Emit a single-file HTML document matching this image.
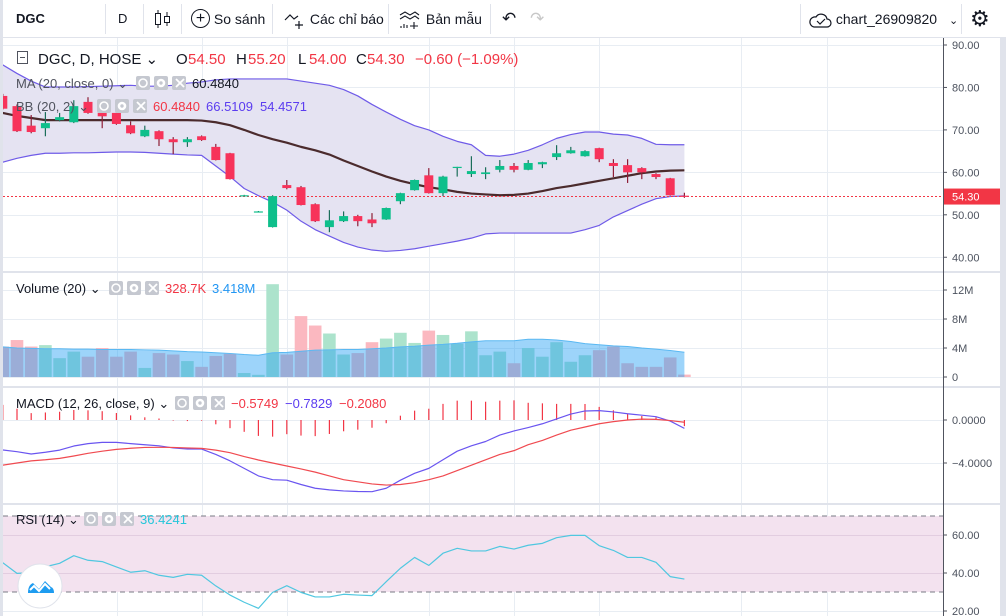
<!DOCTYPE html>
<html><head><meta charset="utf-8">
<style>
html,body{margin:0;padding:0;background:#fff;width:1006px;height:616px;overflow:hidden;font-family:"Liberation Sans","Noto Sans CJK SC",sans-serif;}
#root{position:relative;width:1006px;height:616px;}
.tb{position:absolute;top:0;left:0;width:1006px;height:38px;border-bottom:1px solid #e0e3eb;box-sizing:border-box;background:#fff;}
.tbi{position:absolute;top:0;height:38px;line-height:38px;font-size:14px;color:#131722;white-space:nowrap;}
.sep{position:absolute;top:4px;width:1px;height:30px;background:#e0e3eb;}
</style></head><body>
<div id="root">
<div class="tb">
  <div style="position:absolute;left:0;top:0;width:3px;height:616px;background:#e0e3eb"></div>
  <div class="tbi" style="left:16px;font-weight:bold;font-size:13px">DGC</div>
  <div class="sep" style="left:105px"></div>
  <div class="tbi" style="left:118px;font-size:13px">D</div>
  <div class="sep" style="left:143px"></div>
  <svg style="position:absolute;left:154px;top:9px" width="18" height="20"><line x1="4" y1="1" x2="4" y2="19" stroke="#131722"/><rect x="1.5" y="4.5" width="5" height="11" fill="#fff" stroke="#131722"/><line x1="13" y1="3" x2="13" y2="17" stroke="#131722"/><rect x="10.5" y="7.5" width="5" height="6" fill="#fff" stroke="#131722"/></svg>
  <div class="sep" style="left:181px"></div>
  <div class="tbi" style="left:191px"><span style="display:inline-block;width:17px;height:17px;border:1.3px solid #131722;border-radius:50%;text-align:center;line-height:17px;font-size:16px;vertical-align:middle;margin-top:-3px">+</span> So sánh</div>
  <div class="sep" style="left:272px"></div>
  <div class="tbi" style="left:284px"><svg width="22" height="20" style="vertical-align:middle"><path d="M1 10 L6 5 L10 9 L14 6" fill="none" stroke="#131722" stroke-width="1.2"/><path d="M15 11 V19 M11 15 H19" stroke="#131722" stroke-width="1.2"/></svg> Các chỉ báo</div>
  <div class="sep" style="left:388px"></div>
  <div class="tbi" style="left:398px"><svg width="24" height="20" style="vertical-align:middle"><path d="M2 5 L7 2 L12 5 L17 2 L21 5 M2 9 L7 6 L12 9 L17 6 L21 9" fill="none" stroke="#131722" stroke-width="1.1"/><path d="M3 18v-2 M6 18v-4 M9 18v-3 M16 12 V19 M12 16 H20" stroke="#131722" stroke-width="1.1"/></svg> Bản mẫu</div>
  <div class="sep" style="left:490px"></div>
  <div class="tbi" style="left:502px;font-size:17px;color:#131722">↶</div>
  <div class="tbi" style="left:530px;font-size:17px;color:#c8c8c8">↷</div>
  <div class="sep" style="left:800px"></div>
  <div class="tbi" style="left:808px"><svg width="24" height="18" style="vertical-align:middle"><path d="M6 16 H19 a4 4 0 0 0 0-8 a6 6 0 0 0-11-2 a5 5 0 0 0-2 10z" fill="none" stroke="#131722" stroke-width="1.2"/><path d="M9 10 l3 3 l5-5" fill="none" stroke="#131722" stroke-width="1.2"/></svg> chart_26909820 <span style="font-size:11px;margin-left:8px">⌄</span></div>
  <div class="sep" style="left:961px"></div>
  <div class="tbi" style="left:970px;font-size:22px">⚙</div>
</div>
<svg id="ch" style="position:absolute;left:0;top:38px" width="1006" height="578" viewBox="0 38 1006 578"></svg>
</div>
<script>
const closes=[75,69.7,69.5,71.6,73,75.6,74,73.2,71.4,69.2,70,67.8,67.1,67.8,67.6,62.9,58.4,54.6,50.8,54.4,56.3,52.3,48.5,48.7,49.7,48.5,48,51.6,55.1,58.2,55.1,59,61.3,60.3,60,61.5,60.6,62.2,62.4,64.5,65.2,65,63.1,61.5,60,60,58.9,54.6,54.3];
const opens=[78,75.6,71,70.4,72.3,71.8,76.6,74,74,71.1,68.5,69.7,67.8,67.1,68.5,66,64.5,54.6,50.8,47.1,57,56.5,52.5,47.1,48.5,49.7,48.9,48.9,53.2,55.8,59.3,55.1,61.1,59.6,59.6,60.6,61.5,60.6,61.9,63.6,64.5,63.8,65.7,62.2,61.7,61,59.6,58.6,54.5];
const highs=[78.5,76,73.5,74.2,74,77,77.7,74.3,74,72,71,69.9,68.3,68.3,68.7,66.7,64.6,54.7,50.9,54.6,58.2,56.8,52.7,51.1,50.8,50,50.4,51.7,55.2,58.3,61,59.2,61.3,63.8,61.2,62.9,62.2,62.9,62.5,66.4,66,65.2,65.8,63.1,63.1,61.2,59.8,58.7,55.2];
const lows=[74.8,69.5,69.2,68.5,72,71.6,73.8,70.4,71.2,69,68.3,66.2,64.3,66,67.4,62.8,58.3,54.5,50.7,47,56,52.2,48.3,45.9,48.3,47.3,47.1,48.8,52.5,55.7,55,54.4,59,58.9,58.4,60,60,60.5,61,62.9,64.4,63.7,62.4,58.9,57.5,58.4,58.4,54.5,54];
const maVals=[74,73.3,72.8,72.3,72.3,72.3,72.3,72.3,72.3,72.3,72.3,72.3,72.3,72.3,72.2,71.8,71.1,70,68.8,67.8,67,66,65.2,64.2,62.8,61.5,60.2,59,58,57.2,56.5,56,55.4,55,54.8,54.6,54.7,55,55.6,56.3,56.8,57.4,58,58.6,59.2,59.8,60.2,60.4,60.48];
const bbUpper=[85.3,83.3,81.5,80.1,80.1,80.1,80.2,80.3,80.4,80.5,80.3,80.3,80.5,81,81.3,81.8,82,82,82,82,82,81.5,81,80.5,79.5,78,76,74.2,72.5,71,70,68.5,67.3,66.5,64,63.8,64.3,65.2,66.5,68,68.9,69.5,69.5,69,68.8,68,66.6,66.5,66.51];
const bbLower=[62.4,63.3,64,64.5,64.5,64.6,64.6,64.7,64.8,64.8,64.7,64.5,64.3,64.1,64,61.5,59,56.2,54.5,53,51.1,48.5,46.5,45,43.5,42.4,41.7,41.4,41.6,42,42.6,43.2,43.8,44.5,45.5,45.7,45.7,45.7,45.7,45.7,45.7,46.5,47.5,49.5,51,52.5,53.8,54.3,54.46];
const volumes=[4.2,5.1,4.2,4.4,2.6,3.5,2.8,4.0,2.8,3.5,1.25,3.3,3.1,2.2,1.4,2.9,3.2,0.55,0.3,12.8,3.1,8.4,7.1,6.0,3.1,3.3,4.8,5.3,6.1,4.7,6.4,5.8,4.6,6.3,3.0,3.5,1.9,4.0,2.8,4.8,2.1,3.0,3.7,4.2,1.9,1.4,1.4,2.7,0.33];
const volMA=[4.15,4.0,3.95,3.9,3.9,3.85,3.85,3.8,3.8,3.8,3.75,3.7,3.6,3.5,3.45,3.35,3.25,3.1,3.0,3.35,3.4,3.55,3.7,3.75,3.8,3.8,3.9,4.0,4.15,4.25,4.4,4.5,4.65,4.85,5.0,5.0,5.0,5.2,5.2,5.1,4.9,4.6,4.45,4.3,4.2,4.0,3.85,3.65,3.42];
const macdVals=[-2.79,-2.95,-3.16,-3.0,-2.8,-2.42,-2.2,-2.08,-2.08,-2.2,-2.3,-2.4,-2.6,-2.7,-2.7,-3.2,-3.8,-4.5,-5.2,-5.55,-5.6,-6.0,-6.35,-6.5,-6.6,-6.65,-6.67,-6.35,-5.6,-4.96,-4.5,-3.7,-2.9,-2.4,-2.0,-1.4,-1.02,-0.7,-0.35,0.1,0.55,0.84,0.87,0.75,0.58,0.45,0.31,-0.1,-0.78];
const signalVals=[-4.2,-4.0,-3.8,-3.7,-3.57,-3.35,-3.1,-2.9,-2.73,-2.63,-2.55,-2.54,-2.55,-2.6,-2.64,-2.8,-3.04,-3.4,-3.72,-4.0,-4.28,-4.55,-4.85,-5.2,-5.55,-5.75,-5.95,-6.05,-6.0,-5.83,-5.55,-5.2,-4.7,-4.2,-3.7,-3.2,-2.85,-2.3,-1.9,-1.4,-0.95,-0.65,-0.35,-0.15,0,0.08,0.06,-0.05,-0.21];
const rsiVals=[45.4,39.8,40.2,43.3,45.1,49.1,46.7,46,43.2,40.4,41.2,38.8,37.7,39.3,38.8,33.2,28.4,24.6,21.4,29.8,33.3,29.8,27.4,27.4,28.8,28.4,28.1,35.4,42.5,48.2,44,50.4,53,51.6,51.6,54,52.6,54.6,55.6,58.6,59.8,59.8,54.4,51.9,48.2,48.2,45.6,38.1,36.8];
const priceTicks=[90,80,70,60,50,40];
const volTicks=[12,8,4,0];
const volTickLabels=["12M","8M","4M","0"];
const macdTicks=[0,-4];
const rsiTicks=[60,40,20];
const lastPrice=54.3;

const NS='http://www.w3.org/2000/svg';
const svg=document.getElementById('ch');
function el(t,a,p){const e=document.createElementNS(NS,t);for(const k in a)e.setAttribute(k,a[k]);(p||svg).appendChild(e);return e;}
function tx(x,y,s,a,p){const e=el('text',Object.assign({x:x,y:y,'font-size':11,fill:'#4c525e','font-family':'Liberation Sans, sans-serif'},a),p);e.textContent=s;return e;}
const xC=i=>2.8+14.2*i;
const yP=p=>45+(90-p)*4.245;
const yV=v=>377-v*7.25;
const yM=m=>420-m*10.75;
const yR=r=>535+(60-r)*1.9;
const W=943;
const defs=el('defs',{});
const cp=el('clipPath',{id:'clip'},defs);el('rect',{x:3,y:38,width:W-3,height:578},cp);

// grid
const grid=el('g',{stroke:'#e8edf3','stroke-width':1});


[117,202,287,429,514,599,741,827].forEach(x=>el('line',{x1:x+.5,y1:38,x2:x+.5,y2:616},grid));
priceTicks.forEach(p=>el('line',{x1:3,x2:W,y1:Math.round(yP(p))+.5,y2:Math.round(yP(p))+.5},grid));
volTicks.forEach(v=>el('line',{x1:3,x2:W,y1:Math.round(yV(v))+.5,y2:Math.round(yV(v))+.5},grid));
macdTicks.forEach(v=>el('line',{x1:3,x2:W,y1:Math.round(yM(v))+.5,y2:Math.round(yM(v))+.5},grid));
rsiTicks.forEach(v=>el('line',{x1:3,x2:W,y1:Math.round(yR(v))+.5,y2:Math.round(yR(v))+.5},grid));

const g=el('g',{'clip-path':'url(#clip)'});
// BB fill
let up=bbUpper.map((v,i)=>xC(i)+','+yP(v)).join(' ');
let lo=bbLower.map((v,i)=>xC(i)+','+yP(v)).reverse().join(' ');
const bbf=el('polygon',{points:'0,'+yP(bbUpper[0]+1)+' '+up+' '+lo+' 0,'+yP(bbLower[0]-0.4),fill:'#e5e3f2'},g);


function line(arr,yf,col,w,name){const pl=el('polyline',{points:arr.map((v,i)=>xC(i)+','+yf(v)).join(' '),fill:'none',stroke:col,'stroke-width':w,'stroke-linejoin':'round'},g);return pl;}
line(bbUpper,yP,'#6f5be8',1.2,'bb-upper-line');
line(bbLower,yP,'#6f5be8',1.2,'bb-lower-line');
line(maVals,yP,'#4b2b2d',2.2,'ma20-line');
// last price line
const lp=el('line',{x1:3,x2:W,y1:yP(lastPrice),y2:yP(lastPrice),stroke:'#f23645','stroke-dasharray':'2,2'},g);


// candles
closes.forEach((c,i)=>{const o=opens[i];const upc=c>=o;const x=xC(i);
 const cg=el('g',{},g);
 
 
 el('line',{x1:x,x2:x,y1:yP(highs[i]),y2:yP(lows[i]),stroke:upc?'#1b6e5a':'#8e1d36','stroke-width':1.2},cg);
 const t=yP(Math.max(o,c)),b=yP(Math.min(o,c));
 el('rect',{x:x-4.5,y:t,width:9,height:Math.max(1.2,b-t),fill:upc?'#0ebf8b':'#f7335a'},cg);
});
// volume bars
volumes.forEach((v,i)=>{const upc=closes[i]>=opens[i];const r=el('rect',{x:xC(i)-6.3,y:yV(v),width:12.6,height:yV(0)-yV(v),fill:upc?'#ace3cc':'#fbb8c0'},g);
 
 });
const va=el('polygon',{points:'3,'+yV(0)+' '+volMA.map((v,i)=>xC(i)+','+yV(v)).join(' ')+' '+xC(48)+','+yV(0),fill:'rgba(38,160,245,0.45)'},g);


line(volMA,yV,'#5ab8f2',1,'volume-ma-line');
// macd histogram
macdVals.forEach((m,i)=>{const h=m-signalVals[i];const r=el('line',{x1:xC(i),x2:xC(i),y1:yM(0),y2:yM(h),stroke:'#f23645','stroke-width':1.2},g);
 
 });
line(macdVals,yM,'#6a55f0',1.2,'macd-line');
line(signalVals,yM,'#f04a50',1.2,'signal-line');
// rsi band
const rb=el('rect',{x:3,y:yR(70),width:W-3,height:yR(30)-yR(70),fill:'#f3e2ef'},g);


[70,30].forEach(v=>el('line',{x1:3,x2:W,y1:yR(v),y2:yR(v),stroke:'#787b86','stroke-dasharray':'5,4'},g));
[60,40].forEach(v=>el('line',{x1:3,x2:W,y1:yR(v)+.5,y2:yR(v)+.5,stroke:'#e2cde0'},g));
line(rsiVals,yR,'#4fc7e0',1.2,'rsi-line');

// pane separators
[271,386,503].forEach(y=>{const s=el('rect',{x:3,y:y,width:1003,height:2,fill:'#e0e3eb'});});
// price scale
el('line',{x1:943.5,x2:943.5,y1:38,y2:616,stroke:'#50535e'});
el('rect',{x:1000,y:38,width:6,height:578,fill:'#e0e3eb'});
const ax=el('g',{});


function tick(y,s){el('line',{x1:943,x2:947,y1:y,y2:y,stroke:'#50535e'},ax);tx(952,y+4,s,{},ax);}
priceTicks.forEach(p=>tick(yP(p),p.toFixed(2)));
volTicks.forEach((v,i)=>tick(yV(v),volTickLabels[i]));
macdTicks.forEach(v=>tick(yM(v),(v<0?'−':'')+Math.abs(v).toFixed(4)));
rsiTicks.forEach(v=>tick(yR(v),v.toFixed(2)));
const pl=el('rect',{x:944,y:yP(lastPrice)-8,width:56,height:16,fill:'#f23645'});


tx(952,yP(lastPrice)+4,lastPrice.toFixed(2),{fill:'#fff'});

// legends
function icons(x,y,p){for(let k=0;k<3;k++){el('rect',{x:x+k*18,y:y,width:14,height:14,rx:2,fill:'#c5c8d0'},p);}
 el('circle',{cx:x+7,cy:y+7,r:4,fill:'none',stroke:'#fff','stroke-width':1.6},p);
 el('circle',{cx:x+25,cy:y+7,r:3,fill:'none',stroke:'#fff','stroke-width':2.6},p);
 el('path',{d:`M${x+40} ${y+3} l8 8 M${x+48} ${y+3} l-8 8`,stroke:'#fff','stroke-width':1.8},p);}
const lg=el('g',{});


el('rect',{x:17.5,y:51.5,width:10,height:12,fill:'#fff',stroke:'#50535e'},lg);
el('line',{x1:20,x2:25,y1:57.5,y2:57.5,stroke:'#50535e'},lg);
const L=(x,y,s,c,fs)=>tx(x,y,s,{fill:c,'font-size':fs||15},lg);
L(38,64,'DGC, D, HOSE ⌄','#131722');
L(176,64,'O','#131722');L(188,64,'54.50','#f23645');
L(236,64,'H','#131722');L(248,64,'55.20','#f23645');
L(298,64,'L','#131722');L(309,64,'54.00','#f23645');
L(356,64,'C','#131722');L(367,64,'54.30','#f23645');
L(415,64,'−0.60 (−1.09%)','#f23645');
tx(16,88,'MA (20, close, 0) ⌄',{'font-size':13,fill:'#50535e'},lg);icons(136,76,lg);tx(192,88,'60.4840',{'font-size':13,fill:'#131722'},lg);
tx(16,111,'BB (20, 2) ⌄',{'font-size':13,fill:'#50535e'},lg);icons(97,99,lg);tx(153,111,'60.4840',{'font-size':13,fill:'#f23645'},lg);tx(206,111,'66.5109',{'font-size':13,fill:'#5b3cf0'},lg);tx(260,111,'54.4571',{'font-size':13,fill:'#5b3cf0'},lg);
tx(16,293,'Volume (20) ⌄',{'font-size':13,fill:'#131722'},lg);icons(109,281,lg);tx(165,293,'328.7K',{'font-size':13,fill:'#f23645'},lg);tx(212,293,'3.418M',{'font-size':13,fill:'#2196f3'},lg);
tx(16,408,'MACD (12, 26, close, 9) ⌄',{'font-size':13,fill:'#131722'},lg);icons(175,396,lg);tx(231,408,'−0.5749',{'font-size':13,fill:'#f23645'},lg);tx(285,408,'−0.7829',{'font-size':13,fill:'#5b3cf0'},lg);tx(339,408,'−0.2080',{'font-size':13,fill:'#f23645'},lg);
tx(16,524,'RSI (14) ⌄',{'font-size':13,fill:'#131722'},lg);icons(84,512,lg);tx(140,524,'36.4241',{'font-size':13,fill:'#26c6da'},lg);
// logo
const lgo=el('g',{});


el('circle',{cx:40,cy:586,r:22,fill:'#fff',stroke:'#e0e3eb'},lgo);
el('path',{d:'M28 593 q0-8 5-10 l6 6 l6-8 l6 6 q3 1 3 6 z',fill:'#1e9cf0'},lgo);
el('path',{d:'M30 590 l4-4 l5 5 l6-7 l5 5',fill:'none',stroke:'#fff','stroke-width':2},lgo);
</script>
</body></html>
